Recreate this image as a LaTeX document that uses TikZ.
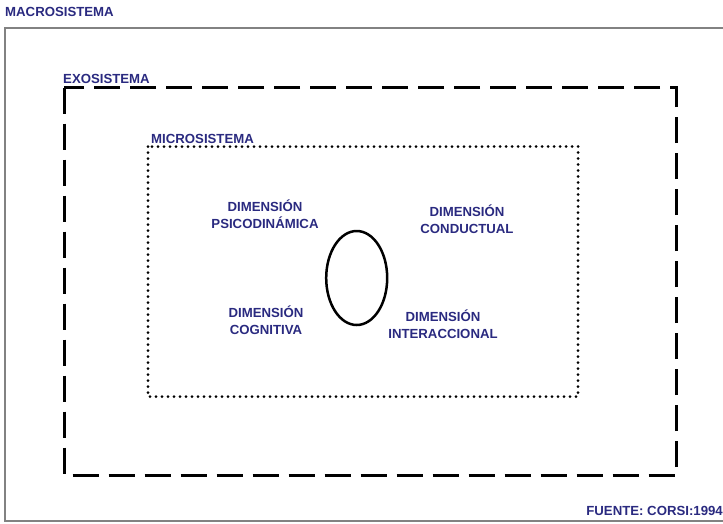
\documentclass[tikz,border=0pt]{standalone}
\usepackage{fontspec}
\setmainfont{Liberation Sans}
\definecolor{txtblue}{RGB}{42,42,128}
\definecolor{framegray}{RGB}{130,130,130}
\begin{document}
\begin{tikzpicture}[x=1pt,y=-1pt,
  lbl/.style={text=txtblue,font=\fontsize{13.2}{17}\selectfont\bfseries,inner sep=0pt},
  dimlbl/.style={lbl,align=center},
  macrobox/.style={draw=framegray,line width=2pt},
  exobox/.style={draw=black,line width=3pt,dash pattern=on 26pt off 10pt},
  microbox/.style={draw=black,line width=3pt,line cap=round,dash pattern=on 0pt off 6pt},
  core/.style={draw=black,line width=2.5pt}]
\useasboundingbox (0,0) rectangle (723,523);
\fill[white] (0,0) rectangle (723,523);
% outer frame
\draw[macrobox] (740,28) -- (5,28) -- (5,521) -- (740,521);
% exosystem
\draw[exobox] (64,87.5) rectangle (676.5,475);
% microsystem
\draw[microbox] (148,146.5) rectangle (578,396.5);
% core
\draw[core] (356.7,278) ellipse [x radius=30.5,y radius=47];
\node[lbl,anchor=west] (macro) at (5,11.5) {MACROSISTEMA};
\node[lbl,anchor=west] (exo) at (63,78.5) {EXOSISTEMA};
\node[lbl,anchor=west] (micro) at (151,138.5) {MICROSISTEMA};
\node[dimlbl] (psico) at (265,214) {DIMENSIÓN\\PSICODINÁMICA};
\node[dimlbl] (cond) at (467,219) {DIMENSIÓN\\CONDUCTUAL};
\node[dimlbl] (cogn) at (266,320) {DIMENSIÓN\\COGNITIVA};
\node[dimlbl] (inter) at (443,324) {DIMENSIÓN\\INTERACCIONAL};
\node[lbl,anchor=east] (fuente) at (723,510.5) {FUENTE: CORSI:1994};
\end{tikzpicture}
\end{document}
